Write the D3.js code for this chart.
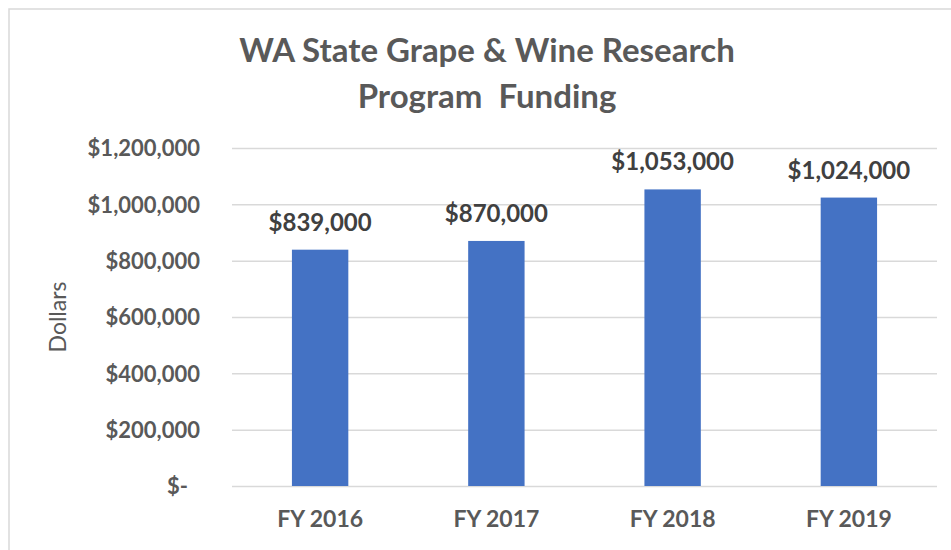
<html>
<head>
<script src="https://d3js.org/d3.v7.min.js"></script>
<style>
  body { margin: 0; background: #fff; }
  text { font-family: Lato, "Open Sans", sans-serif; }
  .grids line { stroke: #d9d9d9; stroke-width: 1.5; }
  .grids .domain { stroke: none; }
</style>
</head>
<body>
<svg id="chart" width="951" height="550"></svg>
<script>
  // data
  const years = ['FY 2016', 'FY 2017', 'FY 2018', 'FY 2019'];
  const funding = [839000, 870000, 1053000, 1024000];
  const yTicks = [0, 200000, 400000, 600000, 800000, 1000000, 1200000];
  const titleLines = ['WA State Grape & Wine Research', 'Program  Funding'];

  const margin = {left: 232, top: 148, bottom: 64, right: 14};
  const svg = d3.select('svg#chart');
  const width = +svg.attr('width'), height = +svg.attr('height');
  const innerH = height - margin.top - margin.bottom;

  // outer frame
  svg.append('rect')
     .attr('x', 9).attr('y', 9)
     .attr('width', width).attr('height', height)
     .attr('fill', 'none').attr('stroke', '#d9d9d9').attr('stroke-width', 1.5);

  const x = d3.scaleBand()
              .domain(years)
              .range([margin.left, width - margin.right])
              .paddingInner(0.68).paddingOuter(0.34);

  const y = d3.scaleLinear()
              .domain([0, 1200000])
              .range([margin.top + innerH, margin.top]);

  const money = d => d === 0 ? '$-' : '$' + d3.format(',')(d);

  // gridlines
  svg.append('g')
     .attr('class', 'grids')
     .attr('transform', `translate(${margin.left},0)`)
     .call(d3.axisLeft(y).tickValues(yTicks).tickFormat('').tickSize(-(width - margin.right - margin.left)));

  // y labels
  const yAxis = svg.append('g')
     .attr('transform', `translate(${margin.left - 29},0)`)
     .call(d3.axisLeft(y).tickValues(yTicks).tickFormat(money).tickSize(0));
  yAxis.select('.domain').remove();
  yAxis.selectAll('text')
       .attr('fill', '#595959').attr('font-size', 22).attr('font-weight', 'bold')
       .attr('font-family', 'Lato, sans-serif').attr('dy', '0.35em')
       .attr('dx', d => d === 0 ? -12 : 0);

  // bars
  svg.selectAll('rect.bar')
     .data(funding)
     .join('rect')
     .attr('class', 'bar')
     .attr('x', (d, i) => x(years[i]))
     .attr('y', d => y(d))
     .attr('width', x.bandwidth())
     .attr('height', d => y(0) - y(d))
     .attr('fill', '#4472c4');

  // value labels
  svg.selectAll('text.val')
     .data(funding)
     .join('text')
     .attr('class', 'val')
     .attr('x', (d, i) => x(years[i]) + x.bandwidth() / 2)
     .attr('y', d => y(d) - 19)
     .attr('text-anchor', 'middle')
     .attr('fill', '#404040').attr('font-size', 24).attr('font-weight', 'bold')
     .text(money);

  // x labels
  const xAxis = svg.append('g')
     .attr('transform', `translate(0,${y(0)})`)
     .call(d3.axisBottom(x).tickSize(0).tickPadding(25));
  xAxis.select('.domain').remove();
  xAxis.selectAll('text')
       .attr('fill', '#595959').attr('font-size', 23).attr('font-weight', 'bold')
       .attr('font-family', 'Lato, sans-serif');

  // axis title
  svg.append('text')
     .attr('transform', `translate(66,${(y(0) + y(1200000)) / 2}) rotate(-90)`)
     .attr('text-anchor', 'middle')
     .attr('fill', '#595959').attr('font-size', 23)
     .text('Dollars');

  // chart title
  svg.selectAll('text.title')
     .data(titleLines)
     .join('text')
     .attr('class', 'title')
     .attr('x', 487)
     .attr('y', (d, i) => 62 + i * 46)
     .attr('text-anchor', 'middle')
     .attr('fill', '#595959').attr('font-size', 33).attr('font-weight', 'bold')
     .style('white-space', 'pre')
     .text(d => d);
</script>
</body>
</html>
